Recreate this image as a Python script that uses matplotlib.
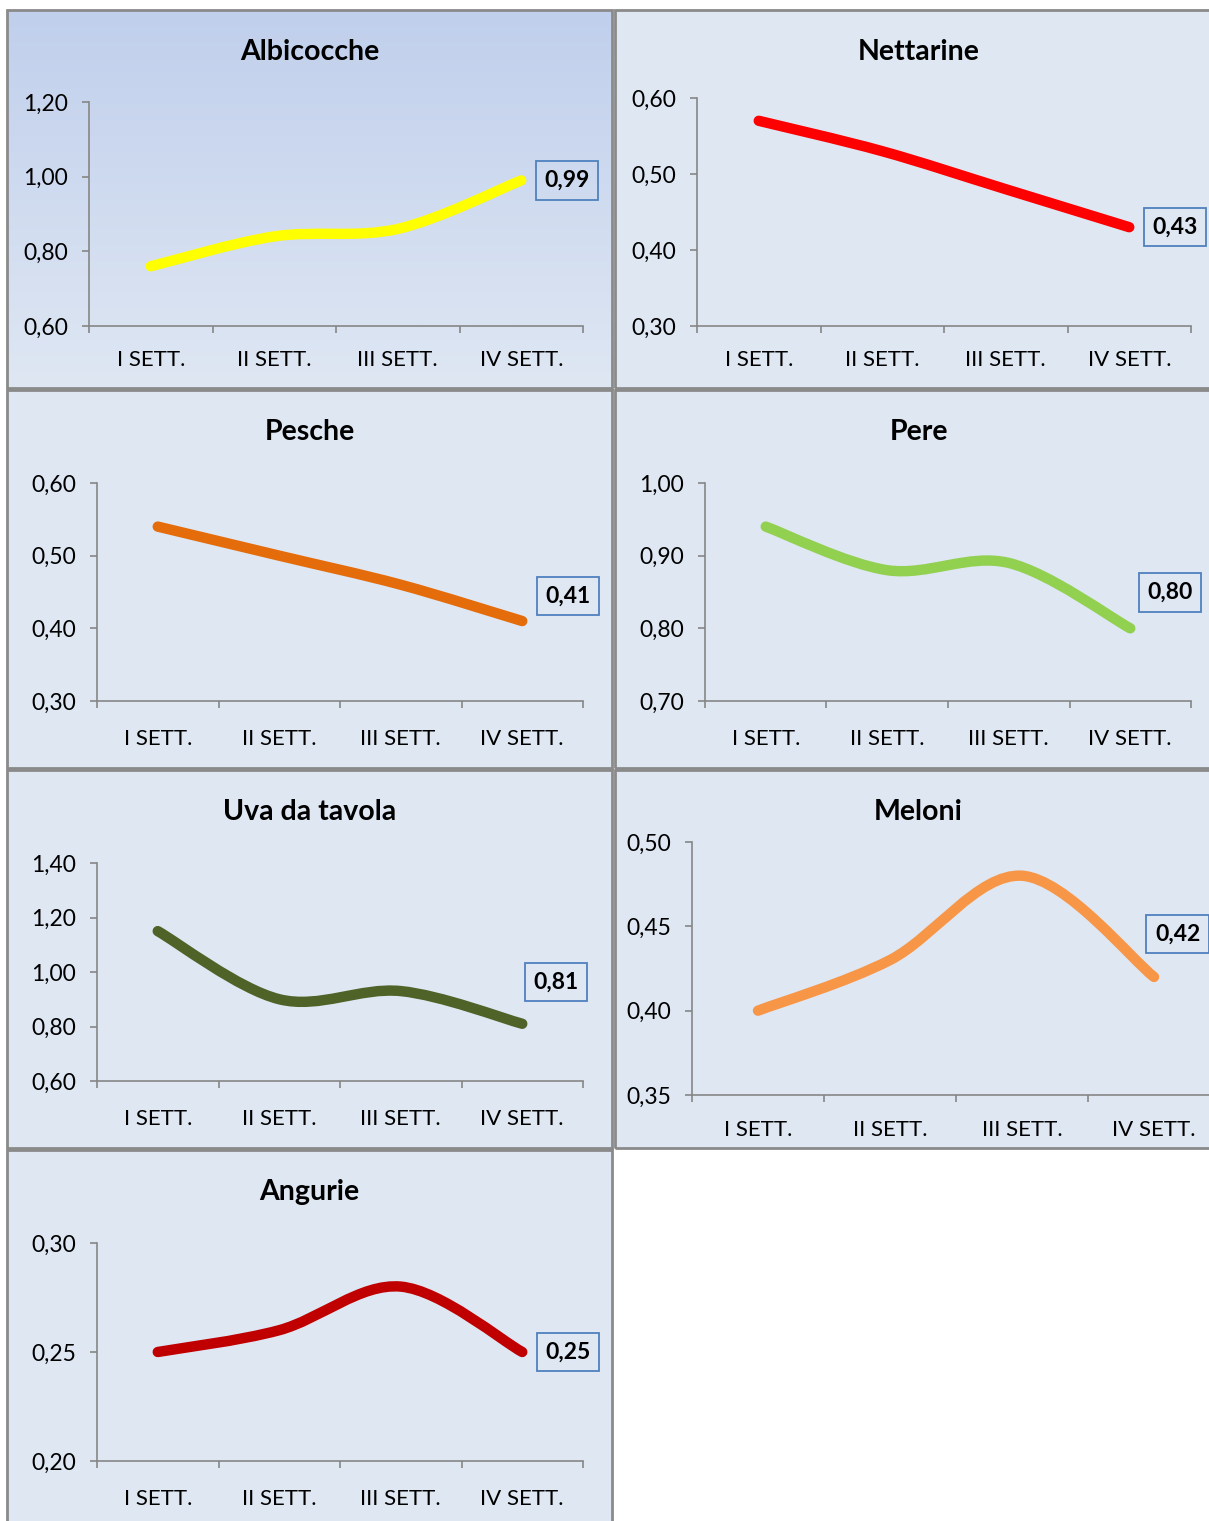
import numpy as np
import matplotlib
matplotlib.use("Agg")
import matplotlib.pyplot as plt
from matplotlib.path import Path
from matplotlib.patches import PathPatch, Rectangle

plt.rcParams['font.family'] = ['Lato', 'DejaVu Sans']

# data
weeks = ["I SETT.", "II SETT.", "III SETT.", "IV SETT."]
titles = ["Albicocche", "Nettarine", "Pesche", "Pere", "Uva da tavola", "Meloni", "Angurie"]
albicocche = [0.76, 0.84, 0.86, 0.99]
nettarine = [0.57, 0.53, 0.48, 0.43]
pesche = [0.54, 0.50, 0.46, 0.41]
pere = [0.94, 0.88, 0.89, 0.80]
uva = [1.15, 0.90, 0.93, 0.81]
meloni = [0.40, 0.43, 0.48, 0.42]
angurie = [0.25, 0.26, 0.28, 0.25]
series = [albicocche, nettarine, pesche, pere, uva, meloni, angurie]
y_ticks = [
    [0.60, 0.80, 1.00, 1.20],
    [0.30, 0.40, 0.50, 0.60],
    [0.30, 0.40, 0.50, 0.60],
    [0.70, 0.80, 0.90, 1.00],
    [0.60, 0.80, 1.00, 1.20, 1.40],
    [0.35, 0.40, 0.45, 0.50],
    [0.20, 0.25, 0.30],
]

# styles / layout (pixels)
colors = ["#ffff00", "#ff0000", "#e46c0a", "#92d050", "#4f6228", "#f79646", "#c00000"]
W, H = 1209, 1521
panels = [(7, 10, 612, 388), (615, 10, 1222, 388),
          (7, 390, 612, 768), (615, 390, 1222, 768),
          (7, 770, 612, 1148), (615, 770, 1222, 1148),
          (7, 1150, 612, 1526)]
plot_areas = [(89, 102, 583, 326), (697, 98, 1191, 326),
              (97, 483, 583, 701), (705, 483, 1191, 701),
              (97, 863, 583, 1081), (692, 842, 1220, 1095),
              (97, 1243, 583, 1461)]
label_offsets = [(15, 0), (15, 0), (15, 25), (9, 36), (3, 42), (-7, 43), (15, 0)]
xlabel_pads = [17, 17, 20, 20, 20, 18, 20]

BG = "#dfe7f3"
AXIS = "#868686"


def frac(r):
    x0, y0, x1, y1 = r
    return [x0 / W, 1 - y1 / H, (x1 - x0) / W, (y1 - y0) / H]


def smooth_path(xs, ys):
    # bezier segments like a spreadsheet "smoothed line"
    pts = np.column_stack([xs, ys]).astype(float)
    n = len(pts)
    verts = [pts[0]]
    codes = [Path.MOVETO]
    for i in range(n - 1):
        p0 = pts[max(i - 1, 0)]
        p1 = pts[i]
        p2 = pts[i + 1]
        p3 = pts[min(i + 2, n - 1)]
        c1 = p1 + (p2 - p0) / 6.0
        c2 = p2 - (p3 - p1) / 6.0
        verts += [c1, c2, p2]
        codes += [Path.CURVE4] * 3
    return Path(verts, codes)


fig = plt.figure(figsize=(W / 100, H / 100), dpi=100)

for i in range(len(titles)):
    # panel background
    bx = fig.add_axes(frac(panels[i]), zorder=0)
    bx.set_xlim(0, 1)
    bx.set_ylim(0, 1)
    bx.axis("off")
    if i == 0:
        grad = np.linspace(0, 1, 256).reshape(-1, 1)
        cmap = matplotlib.colors.LinearSegmentedColormap.from_list(
            "g", ["#c0cfec", "#dfe7f3"])
        bx.imshow(grad, extent=[0, 1, 0, 1], aspect="auto", cmap=cmap,
                  origin="upper", zorder=0)
    else:
        bx.add_patch(Rectangle((0, 0), 1, 1, transform=bx.transAxes,
                               facecolor=BG, edgecolor="none", zorder=0))
    bx.add_patch(Rectangle((0, 0), 1, 1, transform=bx.transAxes, fill=False,
                           edgecolor="#8a8a8a", lw=2, zorder=3, clip_on=False))
    bx.text(0.5, 1 - 42 / (panels[i][3] - panels[i][1]), titles[i],
            transform=bx.transAxes, ha="center", va="center",
            fontsize=20.5, fontweight="bold")

    ax = fig.add_axes(frac(plot_areas[i]), zorder=1)
    ax.patch.set_visible(False)
    vals = series[i]
    ax.set_xlim(-0.5, len(weeks) - 0.5)
    ax.set_ylim(y_ticks[i][0], y_ticks[i][-1])
    ax.add_patch(PathPatch(smooth_path(range(len(vals)), vals), fill=False,
                           edgecolor=colors[i], lw=7.5, capstyle="round",
                           joinstyle="round", clip_on=False))

    for side in ["top", "right"]:
        ax.spines[side].set_visible(False)
    for side in ["left", "bottom"]:
        ax.spines[side].set_color(AXIS)
        ax.spines[side].set_linewidth(1.2)

    ax.set_yticks(y_ticks[i])
    ax.set_yticklabels([f"{v:.2f}".replace(".", ",") for v in y_ticks[i]])
    ax.set_xticks(np.arange(-0.5, len(weeks)))
    ax.set_xticklabels([])
    ax.set_xticks(range(len(weeks)), minor=True)
    ax.set_xticklabels(weeks, minor=True)
    ax.tick_params(axis="x", which="major", direction="out", length=5,
                   color=AXIS, width=1.2)
    ax.tick_params(axis="x", which="minor", length=0, pad=xlabel_pads[i],
                   labelsize=16)
    ax.tick_params(axis="y", direction="out", length=5, color=AXIS, width=1.2,
                   labelsize=16.5, pad=10)

    dx, dy = label_offsets[i]
    ax.annotate(f"{vals[-1]:.2f}".replace(".", ","), xy=(len(vals) - 1, vals[-1]),
                xytext=(dx + 8, dy), textcoords="offset pixels",
                ha="left", va="center", fontsize=16.5, fontweight="bold",
                annotation_clip=False,
                bbox=dict(boxstyle="square,pad=0.38", fc="none",
                          ec="#4f81bd", lw=1.3))

fig.savefig("out.png", dpi=100, facecolor="white")
